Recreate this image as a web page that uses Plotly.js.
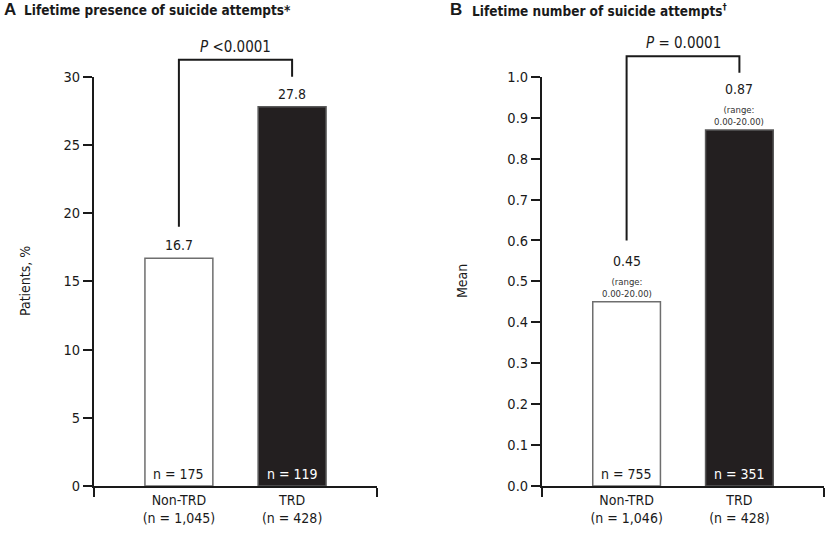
<!DOCTYPE html>
<html>
<head>
<meta charset="utf-8">
<script src="https://cdn.plot.ly/plotly-3.0.1.min.js"></script>
<style>html,body{margin:0;padding:0;background:#fff}#chart{width:829px;height:537px}</style>
</head>
<body>
<div id="chart"></div>
<script>
// data
var groups = ['Non-TRD', 'TRD'];
var groupSizesA = ['1,045', '428'];
var groupSizesB = ['1,046', '428'];
var presencePct = [16.7, 27.8];
var presenceN = [175, 119];
var meanAttempts = [0.45, 0.87];
var meanN = [755, 351];
var meanRange = ['0.00-20.00', '0.00-20.00'];
var yTicksA = [0, 5, 10, 15, 20, 25, 30];
var yTicksB = [0, 0.1, 0.2, 0.3, 0.4, 0.5, 0.6, 0.7, 0.8, 0.9, 1.0];
var pTextA = '&lt;0.0001';
var pTextB = '= 0.0001';

var FONT = '"Liberation Sans Narrow", "Arial Narrow", "DejaVu Sans Condensed", sans-serif';
var INK = '#1a1a1a';
var yDom = [0.095, 0.857];

function paperY(v, max) {
    return yDom[0] + v / max * (yDom[1] - yDom[0]);
}

var fills = ['#ffffff', '#231f20'];
var edges = ['#6e6e6e', '#5a5a5a'];

var barA = {
    x: [0, 1],
    y: presencePct,
    type: 'bar',
    width: 0.6,
    marker: {color: fills, line: {color: edges, width: 1.5}},
    hoverinfo: 'skip',
    xaxis: 'x',
    yaxis: 'y'
};

var barB = {
    x: [0, 1],
    y: meanAttempts,
    type: 'bar',
    width: 0.6,
    marker: {color: fills, line: {color: edges, width: 1.5}},
    hoverinfo: 'skip',
    xaxis: 'x2',
    yaxis: 'y2'
};

function catAxis(domain, anchor, sizes) {
    return {
        domain: domain,
        anchor: anchor,
        range: [-0.75, 1.75],
        showline: true, linecolor: INK, linewidth: 2,
        showgrid: false, zeroline: false,
        tickmode: 'array',
        tickvals: [0, 1],
        ticktext: groups.map(function(g, i) { return g + '<br>(n = ' + sizes[i] + ')'; }),
        ticks: '',
        minor: {tickmode: 'array', tickvals: [-0.749, 1.749], ticks: 'outside', ticklen: 9, tickwidth: 2, tickcolor: INK},
        tickfont: {family: FONT, size: 14, color: INK},
        fixedrange: true
    };
}

function valAxis(anchor, max, ticks, fmt) {
    return {
        domain: yDom,
        anchor: anchor,
        range: [0, max],
        showline: true, linecolor: INK, linewidth: 2,
        showgrid: false, zeroline: false,
        tickmode: 'array',
        tickvals: ticks,
        tickformat: fmt,
        ticks: 'outside', ticklen: 9, tickwidth: 2, tickcolor: INK,
        tickfont: {family: FONT, size: 14.5, color: INK},
        fixedrange: true
    };
}

var annotations = [];
var shapes = [];

function txt(o) {
    var a = {showarrow: false, font: {family: FONT, size: 14, color: INK}};
    for (var k in o) a[k] = o[k];
    return a;
}

// panel A labels
presencePct.forEach(function(v, i) {
    annotations.push(txt({xref: 'x', yref: 'y', x: i, y: v, text: v.toFixed(1), yanchor: 'bottom', yshift: 3}));
    annotations.push(txt({xref: 'x', yref: 'y', x: i, y: 0, text: 'n = ' + presenceN[i], yanchor: 'bottom', yshift: 2,
        font: {family: FONT, size: 14, color: i ? '#ffffff' : INK}}));
});
// panel B labels
meanAttempts.forEach(function(v, i) {
    annotations.push(txt({xref: 'x2', yref: 'y2', x: i, y: v, text: v.toFixed(2), yanchor: 'bottom', yshift: 31}));
    annotations.push(txt({xref: 'x2', yref: 'y2', x: i, y: v, text: '(range:<br>' + meanRange[i] + ')', yanchor: 'bottom', yshift: 1,
        font: {family: FONT, size: 9.5, color: '#333'}}));
    annotations.push(txt({xref: 'x2', yref: 'y2', x: i, y: 0, text: 'n = ' + meanN[i], yanchor: 'bottom', yshift: 2,
        font: {family: FONT, size: 14, color: i ? '#ffffff' : INK}}));
});

// significance brackets
function bracket(xref, lowL, top, lowR, max, pText) {
    var yl = paperY(lowL, max), yt = paperY(top, max), yr = paperY(lowR, max);
    shapes.push({type: 'path', xref: xref, yref: 'paper',
        path: 'M 0,' + yl + ' L 0,' + yt + ' L 1,' + yt + ' L 1,' + yr,
        line: {color: INK, width: 2}});
    annotations.push(txt({xref: xref, yref: 'paper', x: 0.5, y: yt, yanchor: 'bottom', yshift: 2,
        text: '<i>P</i> ' + pText, font: {family: FONT, size: 15, color: INK}}));
}
bracket('x', 19, 31.25, 30, 30, pTextA);
bracket('x2', 0.6, 1.05, 1.01, 1, pTextB);

// panel titles
var titleY = 1 - 10 / 537;
annotations.push(txt({xref: 'paper', yref: 'paper', x: 0.003, y: titleY, xanchor: 'left', yanchor: 'middle',
    text: '<b>A</b>', font: {family: 'Liberation Sans, Arial, sans-serif', size: 17, color: INK}}));
annotations.push(txt({xref: 'paper', yref: 'paper', x: 22 / 829, y: titleY, xanchor: 'left', yanchor: 'middle',
    text: '<b>Lifetime presence of suicide attempts*</b>', font: {family: FONT, size: 13.5, color: INK}}));
annotations.push(txt({xref: 'paper', yref: 'paper', x: 448 / 829, y: titleY, xanchor: 'left', yanchor: 'middle',
    text: '<b>B</b>', font: {family: 'Liberation Sans, Arial, sans-serif', size: 17, color: INK}}));
annotations.push(txt({xref: 'paper', yref: 'paper', x: 470 / 829, y: titleY, xanchor: 'left', yanchor: 'middle',
    text: '<b>Lifetime number of suicide attempts<sup>†</sup></b>', font: {family: FONT, size: 13.5, color: INK}}));

// axis titles
annotations.push(txt({xref: 'paper', yref: 'paper', x: 15 / 829, y: 1 - 281 / 537, textangle: -90,
    text: 'Patients, %'}));
annotations.push(txt({xref: 'paper', yref: 'paper', x: 462 / 829, y: 1 - 281 / 537, textangle: -90,
    text: 'Mean'}));

var layout = {
    width: 829,
    height: 537,
    margin: {l: 0, r: 0, t: 0, b: 0},
    paper_bgcolor: '#ffffff',
    plot_bgcolor: 'rgba(0,0,0,0)',
    showlegend: false,
    font: {family: FONT, color: INK},
    xaxis: catAxis([94 / 829, 377 / 829], 'y', groupSizesA),
    yaxis: valAxis('x', 30, yTicksA, 'd'),
    xaxis2: catAxis([542 / 829, 824 / 829], 'y2', groupSizesB),
    yaxis2: valAxis('x2', 1, yTicksB, '.1f'),
    annotations: annotations,
    shapes: shapes
};

Plotly.newPlot('chart', [barA, barB], layout, {displayModeBar: false, staticPlot: true});
</script>
</body>
</html>
